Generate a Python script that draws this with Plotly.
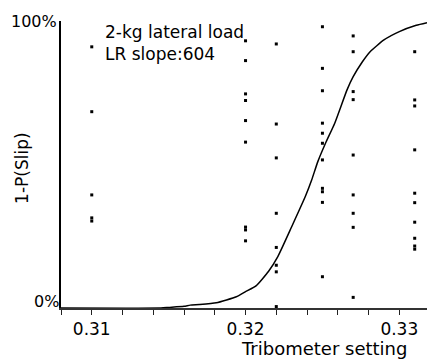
import plotly.graph_objects as go

# Tribometer settings (columns of observations)
x31 = 0.310
x32 = 0.320
x322 = 0.322
x325 = 0.325
x327 = 0.327
x331 = 0.331

# Observed 1-P(Slip) values at each setting
p31 = [0.910, 0.684, 0.394, 0.314, 0.303]
p32 = [0.931, 0.862, 0.746, 0.723, 0.653, 0.578, 0.282, 0.272, 0.234]
p322 = [0.920, 0.641, 0.523, 0.330, 0.211, 0.149, 0.126, 0.005]
p325 = [0.980, 0.835, 0.757, 0.644, 0.609, 0.574, 0.516, 0.417, 0.405, 0.368, 0.109]
p327 = [0.948, 0.893, 0.754, 0.726, 0.533, 0.394, 0.330, 0.281, 0.037]
p331 = [0.893, 0.725, 0.704, 0.551, 0.400, 0.367, 0.299, 0.243, 0.216, 0.205]

# Fitted logistic curve
curve_x = [0.3080, 0.3145, 0.3150, 0.3160, 0.3164, 0.3170, 0.3181, 0.3194, 0.3200,
           0.3207, 0.3215, 0.3221, 0.3230, 0.3239, 0.3243, 0.3247, 0.3252, 0.3258,
           0.3266, 0.3270, 0.3276, 0.3281, 0.3290, 0.3300, 0.3311, 0.3318]
curve_p = [0.000, 0.000, 0.002, 0.006, 0.010, 0.012, 0.018, 0.039, 0.057,
           0.078, 0.128, 0.179, 0.283, 0.390, 0.446, 0.510, 0.574, 0.644,
           0.760, 0.806, 0.858, 0.893, 0.934, 0.963, 0.985, 0.994]

tick_vals = [0.308, 0.310, 0.312, 0.314, 0.316, 0.318, 0.320, 0.322, 0.324,
             0.326, 0.328, 0.330]
tick_text = ["", "0.31", "", "", "", "", "0.32", "", "", "", "", "0.33"]

FONT = "DejaVu Sans"

dot_x = ([x31] * len(p31) + [x32] * len(p32) + [x322] * len(p322) +
         [x325] * len(p325) + [x327] * len(p327) + [x331] * len(p331))
dot_y = p31 + p32 + p322 + p325 + p327 + p331

fig = go.Figure()
fig.add_trace(go.Scatter(x=curve_x, y=curve_p, mode="lines",
                         line=dict(color="black", width=1.5, shape="spline", smoothing=0.5),
                         hoverinfo="skip", showlegend=False))
fig.add_trace(go.Scatter(x=dot_x, y=dot_y, mode="markers",
                         marker=dict(color="black", size=3, symbol="square"),
                         showlegend=False))

fig.update_layout(
    width=427, height=360,
    margin=dict(l=61, r=0, t=21, b=52),
    paper_bgcolor="white", plot_bgcolor="white",
    font=dict(family=FONT, color="black"),
    xaxis=dict(range=[0.308, 0.3318], showgrid=False, zeroline=False,
               showline=True, linecolor="#333", linewidth=1.5,
               ticks="outside", ticklen=5, tickwidth=1.2, tickcolor="#222",
               tickvals=tick_vals, ticktext=tick_text,
               tickfont=dict(size=17, family=FONT, color="black")),
    yaxis=dict(range=[0, 1], showgrid=False, zeroline=False,
               showline=True, linecolor="black", linewidth=2,
               showticklabels=False, ticks=""),
)

ann = [
    dict(text="2-kg lateral load", xref="paper", yref="y", x=0.1148, y=0.962,
         xanchor="left", yanchor="middle", font=dict(size=17)),
    dict(text="LR slope:604", xref="paper", yref="y", x=0.1148, y=0.885,
         xanchor="left", yanchor="middle", font=dict(size=17)),
    dict(text="100%", xref="paper", yref="y", x=0, y=1, xshift=-2,
         xanchor="right", yanchor="middle", font=dict(size=16)),
    dict(text="0%", xref="paper", yref="y", x=0, y=0, xshift=0, yshift=7,
         xanchor="right", yanchor="middle", font=dict(size=16)),
    dict(text="Tribometer setting", xref="paper", yref="paper", x=0.7186, y=0,
         yshift=-40, xanchor="center", yanchor="middle", font=dict(size=18)),
    dict(text="1-P(Slip)", xref="paper", yref="y", x=0, y=0.488, xshift=-39,
         xanchor="center", yanchor="middle", textangle=-90, font=dict(size=17)),
]
for a in ann:
    a["showarrow"] = False
    fig.add_annotation(**a)

fig.write_html("out.html")
